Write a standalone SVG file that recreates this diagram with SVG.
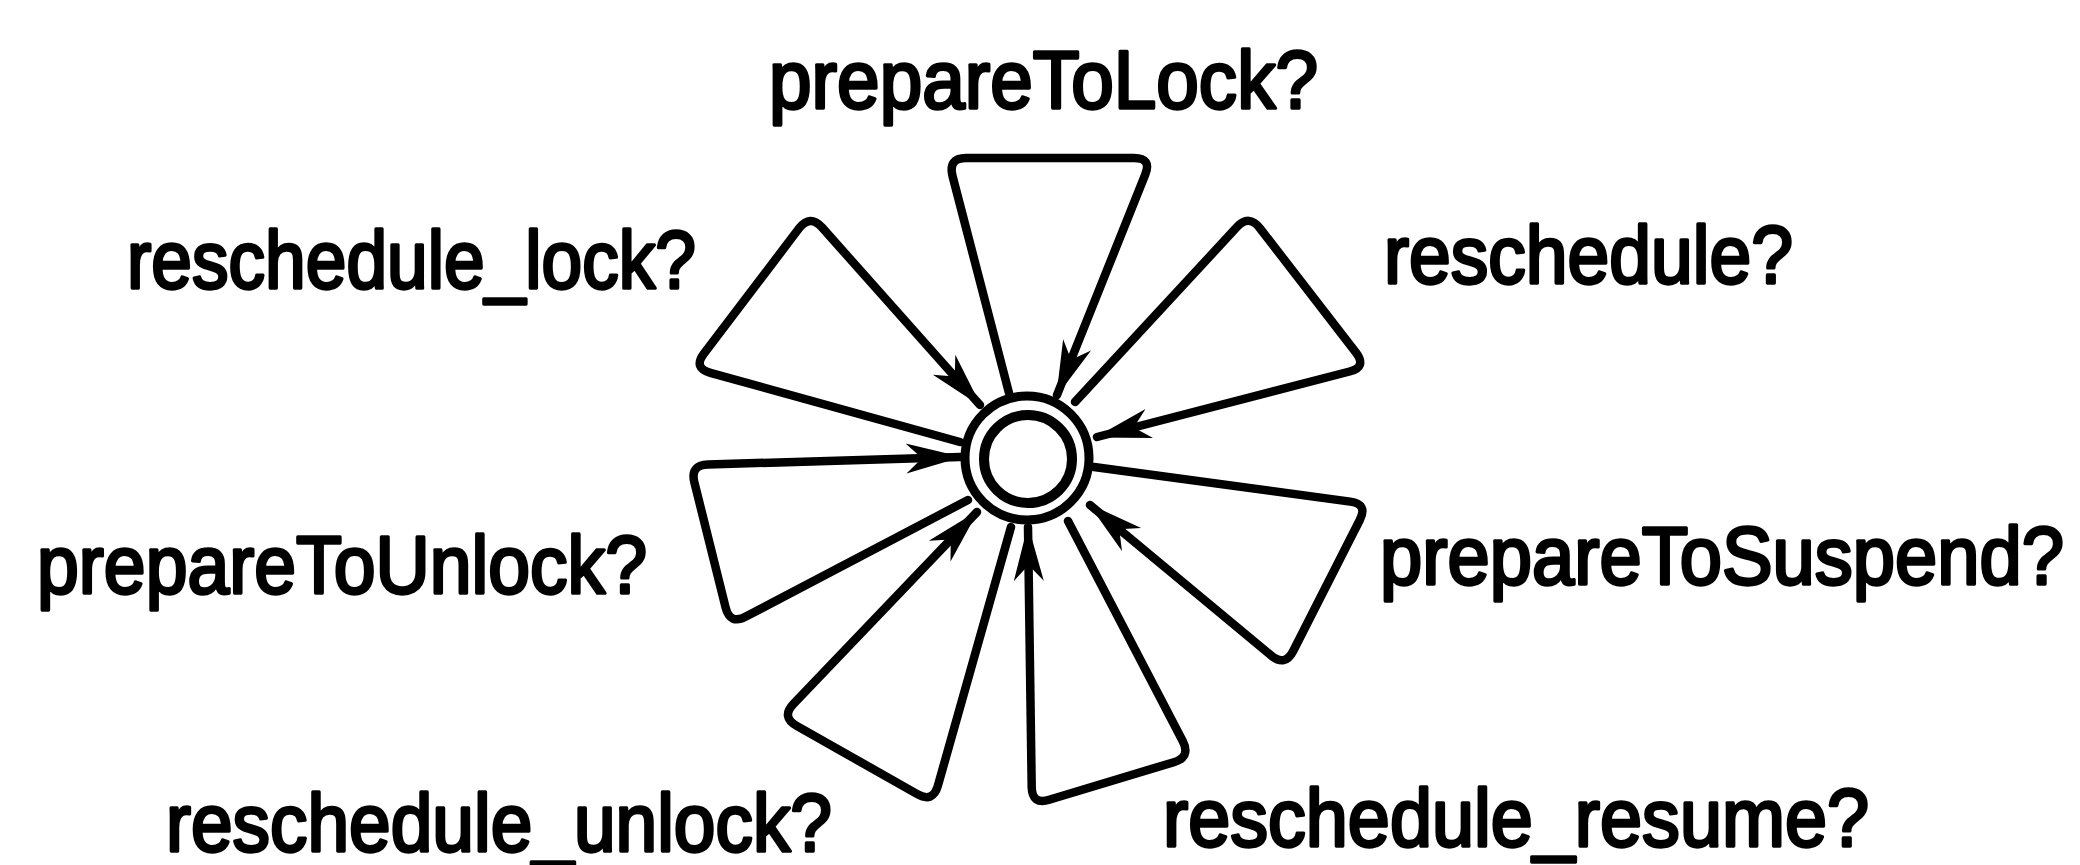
<svg xmlns="http://www.w3.org/2000/svg" width="2080" height="865" viewBox="0 0 2080 865">
<style>
  .lbl { font-family: "Liberation Sans", Arial, sans-serif; font-size: 75px; font-weight: normal; fill: #000; stroke: #000; stroke-width: 3; stroke-linejoin: round; }
  .loop { fill: none; stroke: #000; stroke-width: 8.5; stroke-linejoin: round; stroke-linecap: round; }
  .ring { fill: none; stroke: #000; }
</style>
<defs>
  <marker id="arr" markerUnits="userSpaceOnUse" viewBox="-56 -17 60 34" refX="0" refY="0" markerWidth="60" markerHeight="34" orient="auto">
    <path d="M2,0 L-54,-15 L-38,0 L-54,15 Z" fill="#000"/>
  </marker>
</defs>
<rect width="2080" height="865" fill="#fff"/>
<g id="state">
  <circle class="ring" cx="1027" cy="458" r="62" stroke-width="9"/>
  <circle class="ring" cx="1028" cy="459" r="44" stroke-width="10"/>
</g>
<g id="connectors">
  <path id="e-prepareToLock" class="loop" marker-end="url(#arr)" d="M1009,393 L952.6,176.4 Q948,158 966,158 L1134,158 Q1152,158 1145.2,174.7 L1057,395"/>
  <path id="e-reschedule_lock" class="loop" marker-end="url(#arr)" d="M960,442 L710.4,372.8 Q693,368 703.9,353.7 L799.1,228.3 Q810,214 822,227.4 L980,405"/>
  <path id="e-reschedule" class="loop" marker-end="url(#arr)" d="M1075,402 L1236.8,227.2 Q1249,214 1260,228.3 L1356,352.7 Q1367,367 1349.6,371.5 L1097,437"/>
  <path id="e-prepareToUnlock" class="loop" marker-end="url(#arr)" d="M968,500 L745.9,616.6 Q730,625 725.6,607.5 L694.4,482.5 Q690,465 708,464.5 L960,457"/>
  <path id="e-reschedule_unlock" class="loop" marker-end="url(#arr)" d="M1011,527 L937.9,785.7 Q933,803 917.3,794.1 L796.7,725.9 Q781,717 793.4,704 L977,512"/>
  <path id="e-reschedule_resume" class="loop" marker-end="url(#arr)" d="M1068,521 L1182.7,741 Q1191,757 1173.8,762.2 L1049.2,799.8 Q1032,805 1031.7,787 L1028,527"/>
  <path id="e-prepareToSuspend" class="loop" marker-end="url(#arr)" d="M1094,467 L1350.2,501.6 Q1368,504 1359.8,520 L1293.2,651 Q1285,667 1271.2,655.5 L1090,505"/>
</g>
<g id="labels">
  <text class="lbl" transform="translate(769,108) scale(1,1.09)" textLength="549" lengthAdjust="spacingAndGlyphs">prepareToLock?</text>
  <text class="lbl" transform="translate(127,288) scale(1,1.09)" textLength="569" lengthAdjust="spacingAndGlyphs">reschedule_lock?</text>
  <text class="lbl" transform="translate(1384,283) scale(1,1.09)" textLength="409" lengthAdjust="spacingAndGlyphs">reschedule?</text>
  <text class="lbl" transform="translate(37,593) scale(1,1.09)" textLength="610" lengthAdjust="spacingAndGlyphs">prepareToUnlock?</text>
  <text class="lbl" transform="translate(1380,584) scale(1,1.09)" textLength="684" lengthAdjust="spacingAndGlyphs">prepareToSuspend?</text>
  <text class="lbl" transform="translate(166,851) scale(1,1.09)" textLength="666" lengthAdjust="spacingAndGlyphs">reschedule_unlock?</text>
  <text class="lbl" transform="translate(1163,846) scale(1,1.09)" textLength="706" lengthAdjust="spacingAndGlyphs">reschedule_resume?</text>
</g>
</svg>
